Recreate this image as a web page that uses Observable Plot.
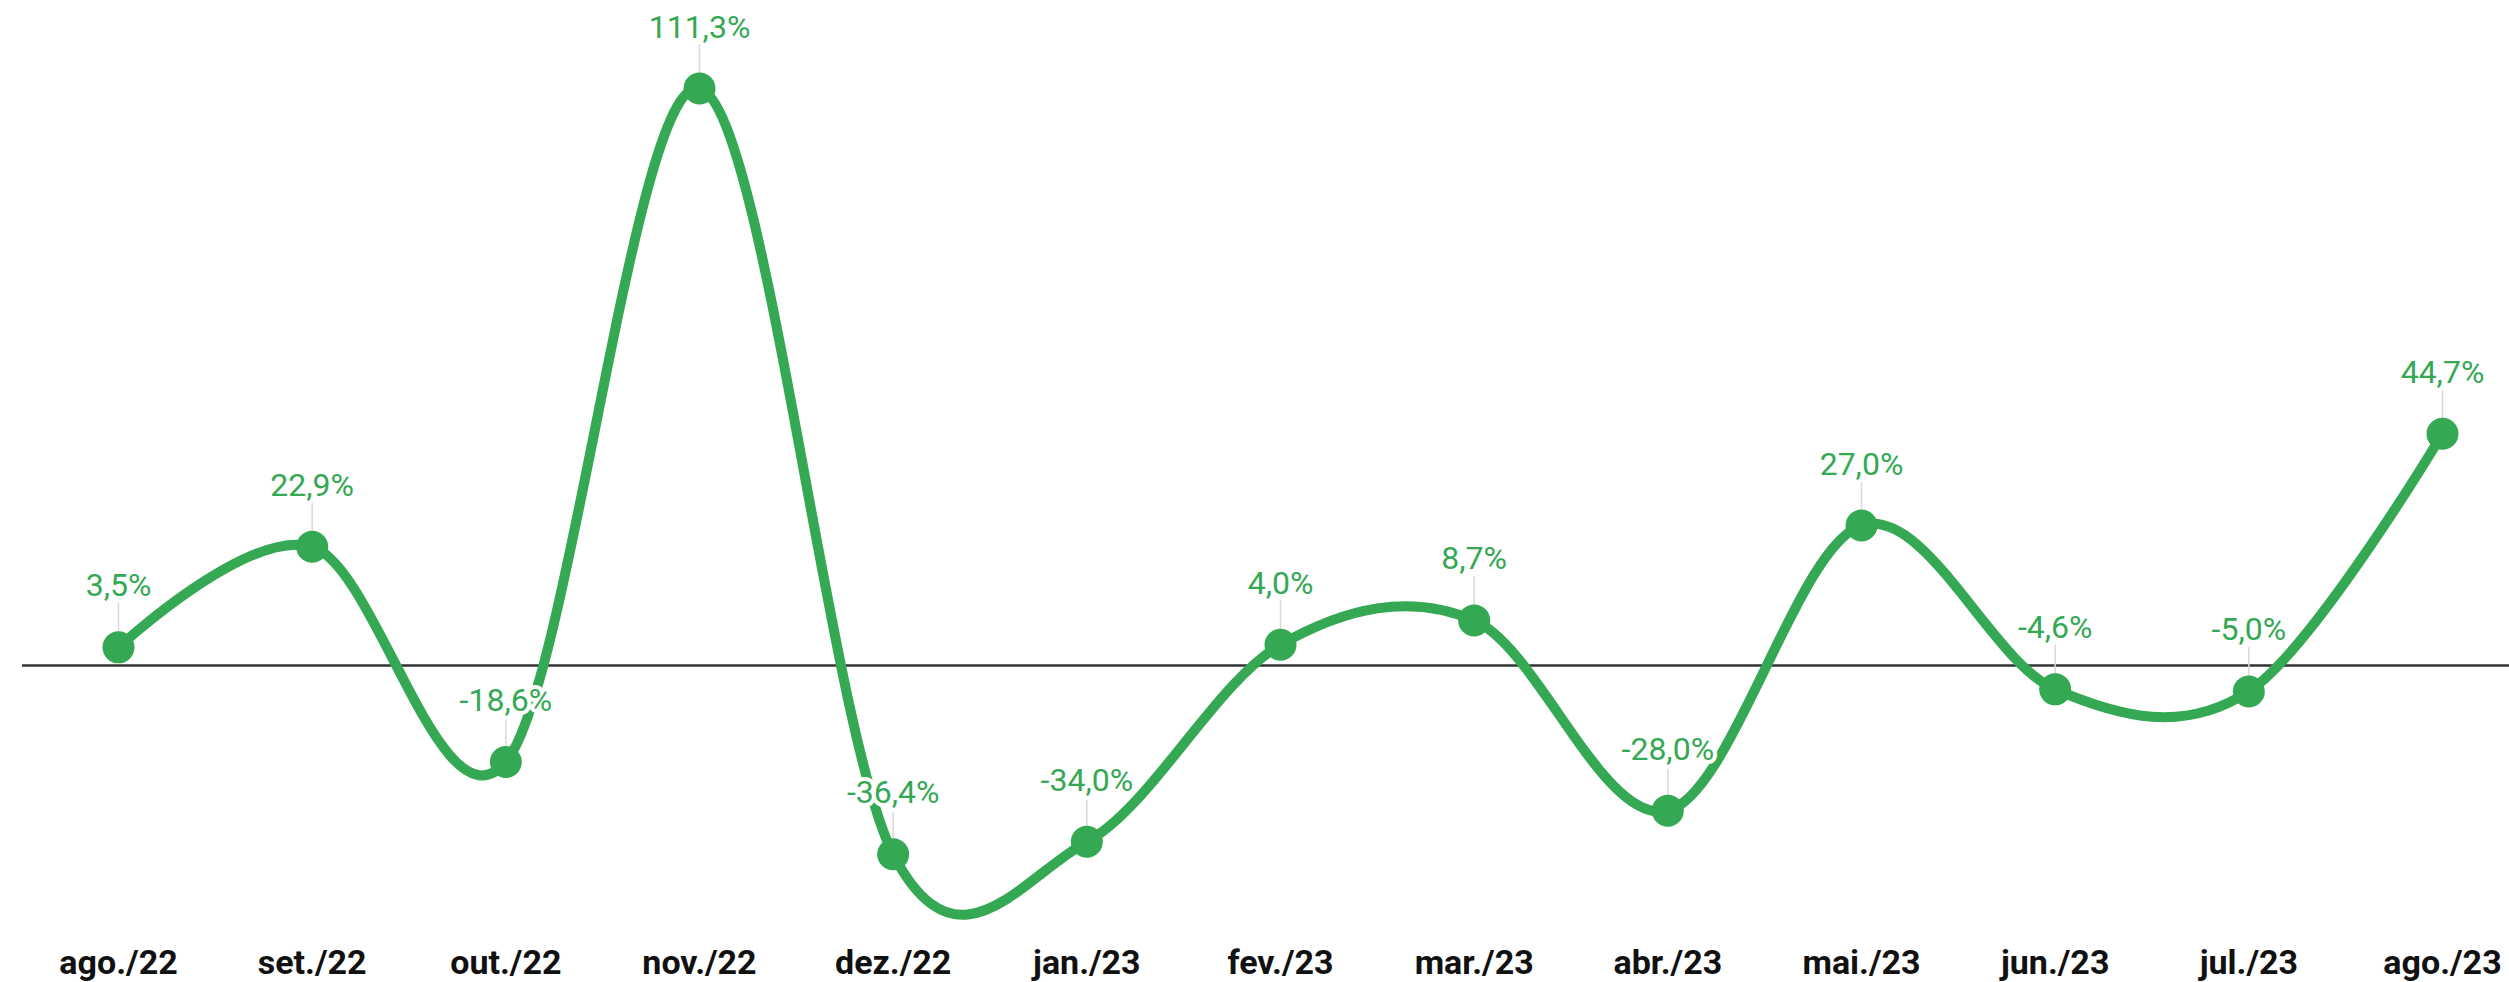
<!DOCTYPE html>
<html>
<head>
<meta charset="utf-8">
<script src="https://cdn.jsdelivr.net/npm/d3@7"></script>
<script src="https://cdn.jsdelivr.net/npm/@observablehq/plot@0.6"></script>
<style>
  html, body { margin: 0; padding: 0; background: #fff; }
  #chart svg { display: block; }
</style>
</head>
<body>
<div id="chart"></div>
<script>
const months = ["ago./22", "set./22", "out./22", "nov./22", "dez./22", "jan./23", "fev./23", "mar./23", "abr./23", "mai./23", "jun./23", "jul./23", "ago./23"];
const values = [3.5, 22.9, -18.6, 111.3, -36.4, -34.0, 4.0, 8.7, -28.0, 27.0, -4.6, -5.0, 44.7];

const data = months.map((m, i) => ({i, m, v: values[i]}));
const fmt = v => v.toFixed(1).replace(".", ",") + "%";
const green = "#34a853";

const chart = Plot.plot({
  width: 2509,
  height: 982,
  marginLeft: 22,
  marginRight: 0,
  marginTop: 0,
  marginBottom: 50,
  style: {fontFamily: "Roboto, sans-serif", background: "#fff"},
  x: {type: "linear", domain: [-0.4957, 12.346], axis: null, label: null},
  y: {domain: [-51.5, 128.28], axis: null, label: null},
  marks: [
    Plot.ruleY([0], {stroke: "#333", strokeWidth: 2.5}),
    Plot.axisX({
      ticks: d3.range(months.length),
      tickFormat: i => months[i],
      tickSize: 0,
      tickPadding: 17,
      label: null,
      fontSize: 34,
      fontWeight: "bold",
      fill: "#111"
    }),
    Plot.vector(data, {
      x: "i", y: "v", length: 44, rotate: 0, anchor: "start",
      shape: {draw(c, l) { c.moveTo(0, 0); c.lineTo(0, -l); }},
      stroke: "#d9d9d9", strokeWidth: 1.5
    }),
    Plot.line(data, {x: "i", y: "v", curve: "cardinal", tension: 0, stroke: green, strokeWidth: 10}),
    Plot.dot(data, {x: "i", y: "v", r: 16, fill: green}),
    Plot.text(data, {
      x: "i", y: "v", text: d => fmt(d.v), dy: -51, lineAnchor: "bottom",
      fontSize: 32, fill: green, stroke: "#fff", strokeWidth: 8
    })
  ]
});
document.getElementById("chart").appendChild(chart);
</script>
</body>
</html>
